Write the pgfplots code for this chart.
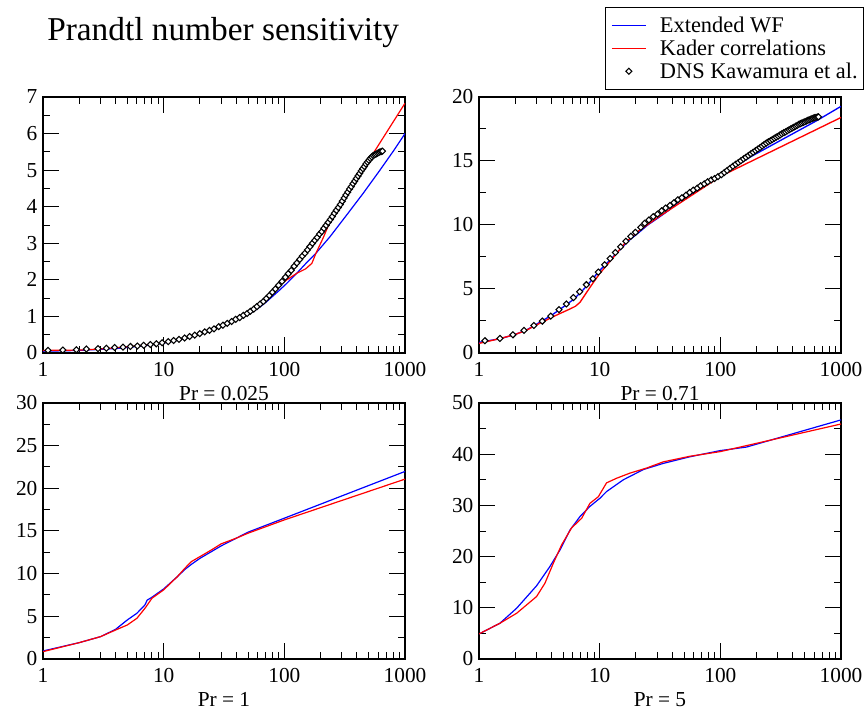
\documentclass[border=0pt]{standalone}
\usepackage{fontspec}
\setmainfont{Liberation Serif}
\usepackage{pgfplots}
\pgfplotsset{compat=1.18}

\definecolor{wfblue}{RGB}{0,0,255}
\definecolor{kared}{RGB}{255,0,0}

\pgfplotsset{
  every axis/.append style={
    scale only axis, width=271.5pt, height=192pt,
    xmin=1, xmax=1000,
    xtick={1,10,100,1000}, xticklabels={1,10,100,1000},
    minor xtick={2,3,4,5,6,7,8,9,20,30,40,50,60,70,80,90,200,300,400,500,600,700,800,900},
    minor y tick num=1,
    tick align=inside, major tick length=12pt, minor tick length=5.25pt,
    xtick pos=both, ytick pos=both,
    xticklabel pos=lower, yticklabel pos=left,
    axis line style={line width=0.8pt},
    tick label style={font=\fontsize{16}{19}\selectfont},
    xticklabel style={anchor=base, yshift=-18pt},
    yticklabel style={anchor=east, inner sep=0pt, xshift=-4pt},
    xlabel style={font=\fontsize{16}{19}\selectfont, at={(axis description cs:0.5,0)}, anchor=base, yshift=-36pt},
  },
  every tick/.style={black, line width=0.75pt},
  /pgf/number format/assume math mode=true,
}

\begin{document}
\begin{tikzpicture}
\path[use as bounding box] (0,0) rectangle (648.75pt,533.25pt);

\node[anchor=base west, inner sep=0pt, font=\fontsize{25}{30}\selectfont] at (35.25pt,502.5pt) {Prandtl number sensitivity};

% Pr = 0.025
\begin{semilogxaxis}[at={(32.25pt,268.5pt)}, anchor=south west, ymin=0, ymax=7, ytick={0,1,...,7}, xlabel={Pr = 0.025}]
\addplot[wfblue, line width=0.9pt] coordinates {
(1,0.05) (1.5,0.06) (2,0.07) (3,0.10) (4,0.12) (5,0.15) (7,0.20) (10,0.27)
(15,0.39) (20,0.51) (30,0.72) (40,0.90) (50,1.05) (60,1.21) (70,1.38) (80,1.55)
(90,1.70) (104.5,1.90) (130,2.22) (150,2.44) (183,2.73) (239,3.18) (328,3.77)
(451,4.37) (620,5.00) (800,5.52) (1000,6.00)
};
\addplot[kared, line width=0.9pt] coordinates {
(1,0.07) (2,0.08) (3,0.11) (5,0.17) (7,0.22) (10,0.29) (15,0.41) (20,0.53)
(30,0.75) (40,0.94) (50,1.10) (60,1.30) (70,1.50) (81,1.72) (90,1.85) (104.7,2.00)
(127,2.18) (150,2.30) (169,2.45) (183,2.73) (210,3.15) (239,3.59) (1000,6.83)
};
\addplot[only marks, mark=square*, mark size=1.6pt, mark options={rotate=45, fill=white, draw=black, line width=0.8pt}] coordinates {
(1.10,0.07) (1.46,0.08) (1.89,0.09) (2.29,0.11) (2.86,0.12) (3.35,0.13) (3.93,0.15)
(4.60,0.16) (5.30,0.18) (6.06,0.19) (6.83,0.21) (7.76,0.23) (8.70,0.25) (9.70,0.28)
(10.9,0.31) (12.1,0.34) (13.4,0.37) (14.9,0.41) (16.4,0.45) (18.1,0.49) (19.9,0.53)
(21.9,0.58) (24.0,0.62) (26.1,0.66) (28.6,0.72) (31.0,0.76) (33.7,0.81) (36.6,0.86)
(39.5,0.92) (42.7,0.97) (45.8,1.03) (49.1,1.08) (52.3,1.14) (55.7,1.20) (59.3,1.27)
(63.1,1.34) (67.0,1.41) (71.0,1.49) (75.2,1.57) (79.6,1.66) (84.3,1.75) (89.6,1.85)
(95.6,1.96) (102,2.07) (108,2.17) (114,2.26) (120.5,2.37) (127,2.46) (134,2.56)
(141,2.65) (148,2.73) (155.5,2.82) (163,2.91) (171,3.00) (179,3.08) (187,3.16)
(195.5,3.25) (204,3.32) (213,3.41) (222,3.49) (231,3.57) (240.5,3.65) (250,3.73)
(260,3.82) (270,3.90) (280.5,3.98) (291,4.06) (302,4.15) (313,4.24) (324,4.32)
(335.5,4.40) (347,4.48) (359,4.55) (371,4.63) (383,4.70) (395.5,4.77) (408,4.84)
(421,4.91) (434,4.98) (447,5.04) (460.5,5.10) (474,5.17) (488,5.22) (502,5.27)
(516,5.32) (530.5,5.36) (545,5.40) (560,5.42) (575,5.44) (590,5.46) (605.5,5.48)
(621,5.50) (637,5.51) (650,5.52)
};
\end{semilogxaxis}

% Pr = 0.71
\begin{semilogxaxis}[at={(359.25pt,268.5pt)}, anchor=south west, ymin=0, ymax=20, ytick={0,5,...,20}, xlabel={Pr = 0.71},
  legend image code/.code={\draw[mark repeat=2,mark phase=2,line width=1pt,#1] plot coordinates {(0cm,0cm) (0.45cm,0cm) (0.9cm,0cm)};},
  legend style={at={(1.0635,1.353)}, anchor=north east, fill=white,
    font=\fontsize{16.8}{20}\selectfont, inner xsep=4.5pt, inner ysep=6pt, row sep=1.75pt, column sep=10pt,
    nodes={inner sep=0pt, text height=13pt, text depth=2.5pt}},
  legend cell align=left]
\addplot[wfblue, line width=1pt] coordinates {
(1,0.83) (1.5,1.12) (2,1.45) (2.5,1.82) (3,2.25) (4,2.95) (5,3.60) (6,4.15) (7,4.75)
(8,5.35) (10,6.45) (12,7.20) (14.5,8.00) (17,8.70) (21.2,9.43) (25,10.00) (31,10.60)
(38,11.20) (45.6,11.85) (66,12.75) (100,13.85) (176,15.30) (333,16.73) (629,18.15) (1000,19.27)
};
\addlegendentry{Extended WF}
\addplot[kared, line width=1pt] coordinates {
(1,0.75) (1.5,1.13) (2,1.45) (2.5,1.80) (3,2.20) (3.5,2.50) (4,2.78) (4.6,3.05)
(5.68,3.44) (6.3,3.65) (6.87,3.96) (7.8,4.74) (8.85,5.50) (10,6.20) (12.7,7.36)
(16.4,8.65) (21.2,9.56) (31,10.65) (45.6,11.68) (66,12.67) (100,13.80) (1000,18.40)
};
\addlegendentry{Kader correlations}
\addplot[only marks, mark=square*, mark size=1.6pt, mark options={rotate=45, fill=white, draw=black, line width=0.8pt}] coordinates {
(1.12,0.96) (1.49,1.14) (1.91,1.42) (2.36,1.76) (2.85,2.15) (3.35,2.49) (3.93,2.88)
(4.60,3.39) (5.30,3.83) (6.06,4.33) (6.83,4.79) (7.76,5.34) (8.80,5.80) (9.75,6.32)
(11.0,6.89) (12.2,7.38) (13.5,7.85) (14.9,8.30) (16.5,8.73) (18.1,9.12) (19.8,9.43)
(21.9,9.82) (23.6,10.13) (25.6,10.39) (27.8,10.65) (30.2,10.85) (32.6,11.11) (35.2,11.32)
(38.2,11.53) (41.2,11.74) (44.5,11.97) (48.0,12.12) (51.9,12.33) (55.7,12.54) (59.7,12.72)
(64.4,12.88) (68.6,13.06) (73.6,13.21) (78.5,13.37) (84.1,13.52) (89.6,13.63) (95.6,13.78)
(102,13.93) (108,14.10) (114,14.26) (120.5,14.43) (127,14.59) (134,14.74) (141,14.88)
(148,15.02) (155.5,15.16) (163,15.29) (171,15.43) (179,15.56) (187,15.68) (195.5,15.81)
(204,15.93) (213,16.05) (222,16.17) (231,16.29) (240.5,16.40) (250,16.50) (260,16.59)
(270,16.68) (280.5,16.78) (291,16.87) (302,16.95) (313,17.04) (324,17.13) (335.5,17.21)
(347,17.28) (359,17.36) (371,17.44) (383,17.51) (395.5,17.58) (408,17.65) (421,17.72)
(434,17.79) (447,17.86) (460.5,17.92) (474,17.97) (488,18.02) (502,18.07) (516,18.12)
(530.5,18.17) (545,18.22) (560,18.26) (575,18.31) (590,18.35) (605.5,18.38) (621,18.41)
(637,18.43) (650,18.45)
};
\addlegendentry{DNS Kawamura et al.}
\end{semilogxaxis}

% Pr = 1
\begin{semilogxaxis}[at={(32.25pt,39pt)}, anchor=south west, ymin=0, ymax=30, ytick={0,5,...,30}, xlabel={Pr = 1}]
\addplot[wfblue, line width=0.9pt] coordinates {
(1,0.94) (2,1.92) (3,2.62) (4,3.48) (5,4.58) (6,5.36) (7,6.34) (7.3,6.90) (8,7.24)
(10,8.21) (13,9.66) (15,10.50) (17,11.10) (20,11.80) (30,13.26) (40,14.16) (50,14.86)
(100,16.50) (1000,21.98)
};
\addplot[kared, line width=0.9pt] coordinates {
(1,0.86) (2,1.92) (3,2.62) (4,3.40) (5,3.99) (6,4.77) (7,5.94) (8,7.12) (10,8.10)
(13,9.66) (15,10.64) (17,11.42) (20,12.00) (25,12.80) (30,13.50) (40,14.16) (50,14.74)
(100,16.30) (1000,21.08)
};
\end{semilogxaxis}

% Pr = 5
\begin{semilogxaxis}[at={(359.25pt,39pt)}, anchor=south west, ymin=0, ymax=50, ytick={0,10,...,50}, xlabel={Pr = 5}]
\addplot[wfblue, line width=0.9pt] coordinates {
(1,4.89) (1.49,6.98) (2.05,9.91) (3.0,14.3) (3.87,18.06) (4.69,21.3) (5.68,25.2)
(6.86,27.8) (8.3,29.8) (10.05,31.4) (11.4,32.7) (15.7,35.0) (23,37.0) (33.6,38.2)
(56,39.5) (99.6,40.7) (165,41.4) (1000,46.7)
};
\addplot[kared, line width=0.9pt] coordinates {
(1,4.89) (1.49,6.98) (2.05,8.93) (3.0,12.2) (3.52,14.8) (4.13,18.7) (4.84,22.3)
(5.85,25.6) (7.1,27.5) (8.3,30.4) (9.75,31.7) (11.4,34.4) (13.8,35.3) (17.8,36.3)
(24.5,37.3) (33.6,38.5) (56,39.6) (99.6,40.5) (1000,45.9)
};
\end{semilogxaxis}
\end{tikzpicture}
\end{document}
